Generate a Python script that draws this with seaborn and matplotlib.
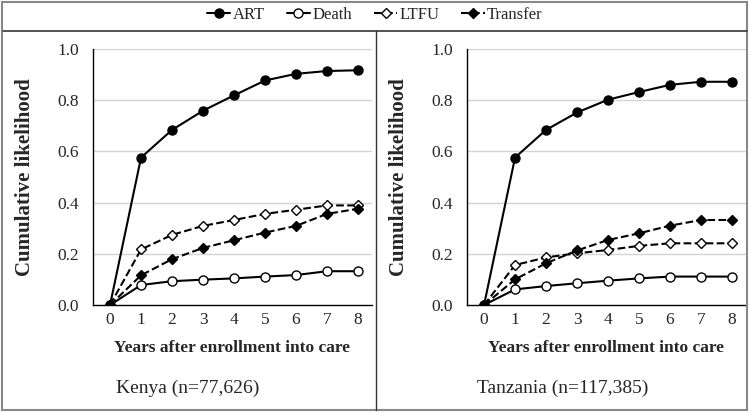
import numpy as np
import pandas as pd
import matplotlib
matplotlib.use("Agg")
import matplotlib.pyplot as plt
from matplotlib.lines import Line2D
from matplotlib.patches import Rectangle
import seaborn as sns

years = [0, 1, 2, 3, 4, 5, 6, 7, 8]
series = ["ART", "Death", "LTFU", "Transfer"]

kenya_art = [0.0, 0.576, 0.684, 0.759, 0.819, 0.877, 0.903, 0.914, 0.917]
kenya_death = [0.0, 0.078, 0.093, 0.099, 0.104, 0.111, 0.117, 0.132, 0.132]
kenya_ltfu = [0.0, 0.217, 0.274, 0.309, 0.332, 0.356, 0.372, 0.389, 0.389]
kenya_transfer = [0.0, 0.116, 0.179, 0.223, 0.253, 0.283, 0.309, 0.356, 0.376]

tanz_art = [0.0, 0.576, 0.684, 0.752, 0.802, 0.832, 0.860, 0.872, 0.872]
tanz_death = [0.0, 0.061, 0.074, 0.085, 0.095, 0.104, 0.111, 0.111, 0.111]
tanz_ltfu = [0.0, 0.156, 0.186, 0.202, 0.215, 0.231, 0.241, 0.241, 0.241]
tanz_transfer = [0.0, 0.100, 0.163, 0.213, 0.254, 0.280, 0.310, 0.332, 0.332]

panels = [
    ("Kenya (n=77,626)", [kenya_art, kenya_death, kenya_ltfu, kenya_transfer]),
    ("Tanzania (n=117,385)", [tanz_art, tanz_death, tanz_ltfu, tanz_transfer]),
]

y_ticks = [0.0, 0.2, 0.4, 0.6, 0.8, 1.0]
x_label = "Years after enrollment into care"
y_label = "Cumulative likelihood"

sns.set_theme(style="white")
plt.rcParams["font.family"] = ["Liberation Serif", "DejaVu Serif"]

styles = {
    "ART": dict(marker="o", mfc="black", ls="-", ms=6.5),
    "Death": dict(marker="o", mfc="white", ls="-", ms=6.5),
    "LTFU": dict(marker="D", mfc="white", ls="--", ms=5.5),
    "Transfer": dict(marker="D", mfc="black", ls="--", ms=5.5),
}

W, H = 750, 413
fig = plt.figure(figsize=(7.5, 4.13), dpi=100)

ax_boxes = [(93, 372), (467, 746)]
y_top, y_bot = 49, 305

for (cap, vals), (x0, x1), half in zip(panels, ax_boxes, [0, 1]):
    ax = fig.add_axes([x0 / W, (H - y_bot) / H, (x1 - x0) / W, (y_bot - y_top) / H])
    df = pd.DataFrame({
        "year": years * len(series),
        "value": sum(vals, []),
        "series": sum([[s] * len(years) for s in series], []),
    })
    for s in series:
        st = styles[s]
        sub = df[df["series"] == s]
        sns.lineplot(data=sub, x="year", y="value", ax=ax, color="black",
                     linestyle=st["ls"], linewidth=1.5, marker=st["marker"],
                     markersize=st["ms"], markerfacecolor=st["mfc"],
                     markeredgecolor="black", markeredgewidth=1.0,
                     label=s, legend=False, zorder=3)
    ax.set_xlim(-0.55, 8.45)
    ax.set_ylim(0, 1.0)
    ax.set_yticks(y_ticks)
    ax.set_yticklabels([f"{v:.1f}" for v in y_ticks], fontsize=12.5)
    ax.set_xticks(years)
    ax.set_xticklabels([str(v) for v in years], fontsize=12.5)
    ax.set_xticks([v + 0.45 for v in years], minor=True)
    ax.tick_params(axis="x", which="major", length=0, pad=5)
    ax.tick_params(axis="x", which="minor", length=4, width=1, color="black", direction="out")
    ax.tick_params(axis="y", which="major", length=4, width=1, color="black", direction="out", pad=6)
    for yv in y_ticks[1:]:
        ax.axhline(yv, color="#d4d4d4", linewidth=1.0, zorder=0)
    for sp in ["top", "right"]:
        ax.spines[sp].set_visible(False)
    for sp in ["left", "bottom"]:
        ax.spines[sp].set_color("black")
        ax.spines[sp].set_linewidth(1.0)
    ax.set_xlabel(x_label, fontsize=12.5, fontweight="bold", labelpad=9)
    ax.set_ylabel(y_label, fontsize=15, fontweight="bold", labelpad=16)
    ax.set_facecolor("white")
    cx = (half * 375 + 187.5) / W
    fig.text(cx, 1 - 388 / H, cap, ha="center", va="center", fontsize=14)

# legend
handles = [Line2D([], [], color="black", linestyle=styles[s]["ls"], linewidth=1.5,
                  marker=styles[s]["marker"], markersize=styles[s]["ms"],
                  markerfacecolor=styles[s]["mfc"], markeredgecolor="black")
           for s in series]
fig.legend(handles, series, loc="center", bbox_to_anchor=(0.5, 1 - 15 / H), ncol=4,
           frameon=False, fontsize=12, handlelength=1.4, handletextpad=0.15,
           columnspacing=1.3)

# frame lines
fig.add_artist(Rectangle((1.5 / W, 1 - 410 / H), (747 - 1.5) / W, (410 - 1.5) / H,
                         transform=fig.transFigure, fill=False, edgecolor="#888888",
                         linewidth=1.5))
fig.add_artist(Line2D([3 / W, 747 / W], [1 - 30.5 / H, 1 - 30.5 / H],
                      transform=fig.transFigure, color="#333333", linewidth=1.2))
fig.add_artist(Line2D([375.5 / W, 375.5 / W], [1 - 30.5 / H, 1 - 410 / H],
                      transform=fig.transFigure, color="#333333", linewidth=1.0))

fig.savefig("out.png", dpi=100, facecolor="white")
